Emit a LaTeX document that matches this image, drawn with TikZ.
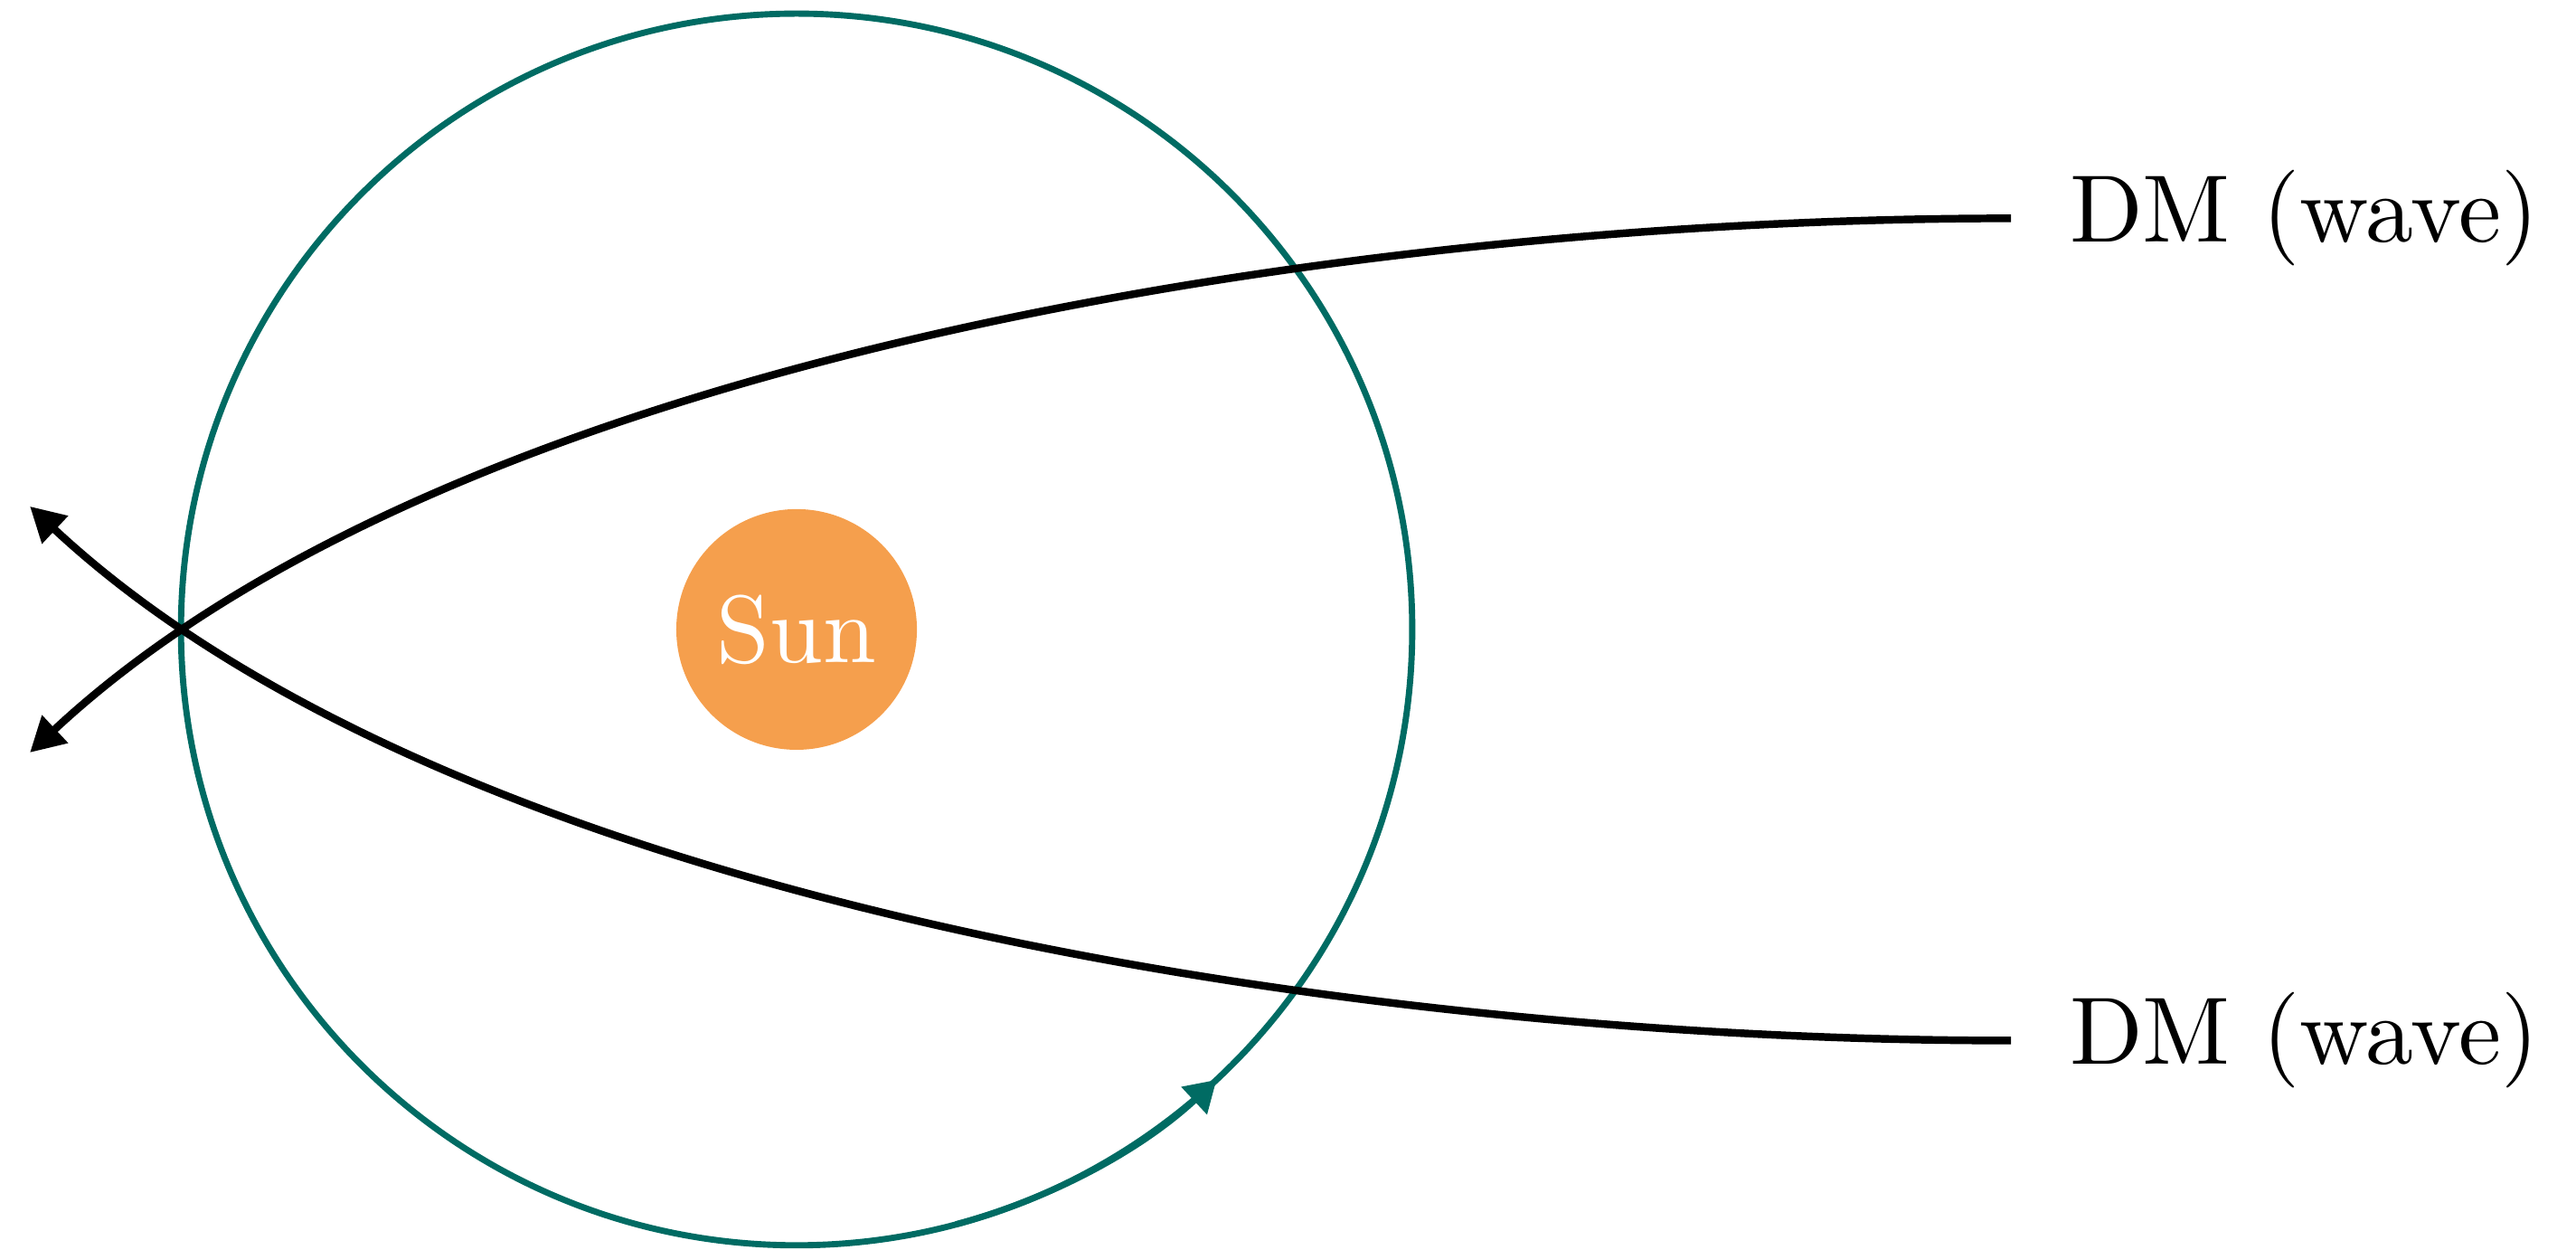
\documentclass[tikz,border=0pt]{standalone}
\usetikzlibrary{arrows.meta,positioning}
\definecolor{sunorange}{RGB}{245,159,77}
\definecolor{orbitteal}{RGB}{0,107,99}
\tikzset{
  orbit/.style={draw=orbitteal, line width=0.65pt},
  dmpath/.style={line width=0.8pt, -{Triangle[length=3.6pt,width=3.8pt]}},
}
\begin{document}
\begin{tikzpicture}
  \useasboundingbox (-2.927,-2.279) rectangle (6.538,2.312); %
  \draw[orbit] (0,0) circle[radius=2.262]; %
  \draw[orbit, -{Triangle[length=3.2pt,width=3.8pt]}] (-75:2.262) arc[radius=2.262, start angle=-75, end angle=-47]; %
  \node[circle, fill=sunorange, minimum size=0.884cm, inner sep=0pt, text=white] (sun) at (0,0) {Sun}; %
  \coordinate (wu) at (4.462,1.51); %
  \coordinate (wl) at (4.462,-1.51); %
  \coordinate (tu) at (-2.817,0.452); %
  \coordinate (tl) at (-2.817,-0.452); %
  \draw[dmpath] (wu) .. controls (2.10,1.51) and (-1.235,1.023) .. (tl); %
  \draw[dmpath] (wl) .. controls (2.10,-1.51) and (-1.235,-1.023) .. (tu); %
  \node[right=2.6pt of wu] (dmu) {DM (wave)}; %
  \node[right=2.6pt of wl] (dml) {DM (wave)}; %
\end{tikzpicture}
\end{document}
